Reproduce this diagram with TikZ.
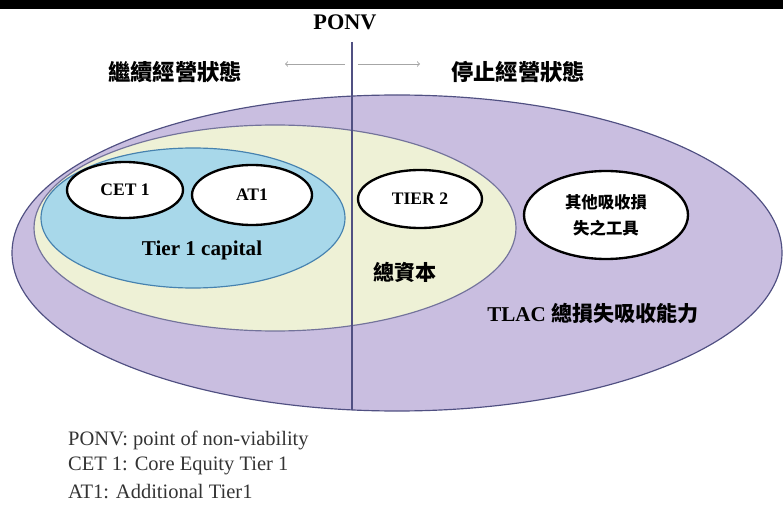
\documentclass[tikz,border=0pt]{standalone}
\usepackage{fontspec}
\setmainfont{Liberation Serif}
\newfontfamily\cjk{Noto Sans CJK TC}
\usetikzlibrary{positioning,shapes.geometric,arrows}

\definecolor{tlacfill}{RGB}{201,190,224}
\definecolor{tlacline}{RGB}{80,80,130}
\definecolor{totfill}{RGB}{238,241,214}
\definecolor{tierfill}{RGB}{168,216,234}
\definecolor{tierline}{RGB}{70,130,175}

\begin{document}
\begin{tikzpicture}[x=0.03cm, y=-0.03cm,
    zone/.style={ellipse, draw, line width=1pt, inner sep=0pt},
    part/.style={ellipse, draw=black, fill=white, line width=2pt, inner sep=0pt},
    lab/.style={font=\bfseries\fontsize{15}{17}\selectfont},
    cjklab/.style={font=\cjk\bfseries\fontsize{19}{22}\selectfont},
    note/.style={anchor=west, text=black!80, font=\fontsize{17.5}{20}\selectfont}
  ]
    \useasboundingbox (0,0) rectangle (783,511);
    \fill[black] (0,0) rectangle (783,9);

    % nested zones
    \node[zone, draw=tlacline, fill=tlacfill, minimum width=770*0.03cm, minimum height=316*0.03cm] (tlac) at (397,253) {};
    \node[zone, draw=tlacline!80, fill=totfill, minimum width=482*0.03cm, minimum height=206*0.03cm] (total) at (275,228) {};
    \node[zone, draw=tierline, fill=tierfill, minimum width=304*0.03cm, minimum height=140*0.03cm] (tier1) at (193,218) {};

    % instruments
    \node[part, minimum width=116*0.03cm, minimum height=56*0.03cm, lab] (cet) at (125,190) {CET 1};
    \node[part, minimum width=120*0.03cm, minimum height=60*0.03cm, lab] (at) at (252,195) {AT1};
    \node[part, minimum width=124*0.03cm, minimum height=58*0.03cm, lab] (tier2) at (420,199) {TIER 2};
    \node[part, minimum width=164*0.03cm, minimum height=88*0.03cm, align=center,
          font=\cjk\bfseries\fontsize{14}{22}\selectfont] (other) at (606,215) {其他吸收損\\失之工具};

    \node[lab, font=\bfseries\fontsize{18}{20}\selectfont] (t1cap) at (202,250) {Tier 1 capital};
    \node[cjklab, font=\cjk\bfseries\fontsize{18}{20}\selectfont] (totcap) at (405,272) {總資本};
    \node[lab, font=\bfseries\fontsize{18}{20}\selectfont] (tlaclab) at (593,313) {TLAC {\cjk 總損失吸收能力}};

    % PONV divide
    \node[font=\bfseries\fontsize{19}{21}\selectfont] (ponv) at (345,22) {PONV};
    \coordinate (vtop) at (352,42);
    \coordinate (vbot) at (352,410);
    \draw[tlacline, line width=1pt] (vtop) -- (vbot);
    \coordinate (lft) at (285,64);
    \coordinate (rgt) at (420,64);
    \draw[->, black!35, line width=0.8pt] (345,64) -- (lft);
    \draw[->, black!35, line width=0.8pt] (358,64) -- (rgt);
    \node[cjklab] (going) at (175,72) {繼續經營狀態};
    \node[cjklab] (gone) at (518,72) {停止經營狀態};

    % legend
    \node[note] (n1) at (64,440) {PONV: point of non-viability};
    \node[note] (n2) at (64,466) {CET 1: Core Equity Tier 1};
    \node[note] (n3) at (64,492) {AT1: Additional Tier1};
\end{tikzpicture}
\end{document}
